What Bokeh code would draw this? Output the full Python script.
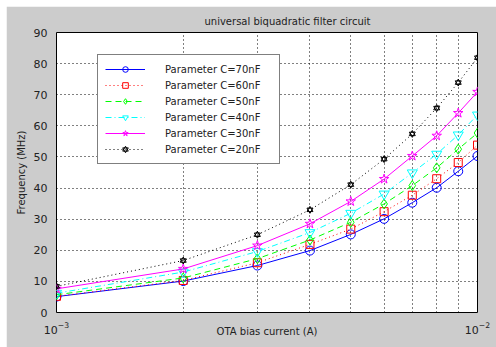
from bokeh.plotting import figure
from bokeh.models import FixedTicker, LogTickFormatter, Legend, LegendItem
from bokeh.embed import file_html
from bokeh.resources import INLINE

# ---- data ----
current = [0.001, 0.002, 0.003, 0.004, 0.005, 0.006, 0.007, 0.008, 0.009, 0.010]
f_70nF = [5.1, 10.1, 15.1, 19.9, 25.1, 30.1, 35.3, 40.1, 45.4, 50.3]
f_60nF = [5.2, 10.3, 16.0, 21.9, 26.8, 32.4, 37.7, 43.0, 48.2, 53.8]
f_50nF = [5.7, 11.1, 17.3, 23.3, 29.0, 34.9, 40.8, 46.5, 52.5, 57.7]
f_40nF = [6.2, 13.0, 19.6, 25.7, 31.9, 38.1, 44.9, 50.9, 57.1, 63.5]
f_30nF = [7.6, 14.0, 21.5, 28.5, 35.7, 42.9, 50.3, 56.8, 64.1, 70.9]
f_20nF = [8.4, 16.7, 25.0, 33.0, 41.1, 49.3, 57.4, 65.7, 73.9, 81.9]
series_labels = ["Parameter C=70nF", "Parameter C=60nF", "Parameter C=50nF",
                 "Parameter C=40nF", "Parameter C=30nF", "Parameter C=20nF"]
y_ticks = [0, 10, 20, 30, 40, 50, 60, 70, 80, 90]
x_major_ticks = [0.001, 0.01]
x_minor_ticks = [0.002, 0.003, 0.004, 0.005, 0.006, 0.007, 0.008, 0.009]

FONT = "DejaVu Sans"

p = figure(width=490, height=341, x_axis_type="log",
           x_range=(0.001, 0.01), y_range=(0, 90),
           output_backend="svg", toolbar_location=None,
           min_border_left=50, min_border_right=19,
           min_border_top=26, min_border_bottom=35,
           title="universal biquadratic filter circuit")
p.margin = (6, 0, 0, 6)

p.border_fill_color = "#cccccc"
p.background_fill_color = "white"
p.outline_line_color = "black"
p.outline_line_width = 1

p.title.text_font = FONT
p.title.text_font_size = "10px"
p.title.text_font_style = "normal"
p.title.text_color = "#222222"
p.title.align = "left"
p.title.offset = 148
p.title.standoff = 12

# axes
xt = FixedTicker(ticks=x_major_ticks, minor_ticks=x_minor_ticks)
p.xaxis.ticker = xt
p.xaxis.formatter = LogTickFormatter()
p.xgrid.ticker = xt
yt = FixedTicker(ticks=y_ticks)
p.yaxis.ticker = yt
p.ygrid.ticker = yt

for ax in (p.xaxis[0], p.yaxis[0]):
    ax.axis_line_color = None
    ax.major_tick_line_color = None
    ax.minor_tick_line_color = None
    ax.major_label_text_font = FONT
    ax.major_label_text_font_size = "11px"
    ax.major_label_text_color = "#222222"
    ax.major_label_standoff = 3
    ax.axis_label_text_font = FONT
    ax.axis_label_text_font_size = "10px"
    ax.axis_label_text_font_style = "normal"
    ax.axis_label_text_color = "#222222"

p.xaxis.axis_label = "OTA bias current (A)"
p.xaxis.axis_label_standoff = -11
p.yaxis.axis_label = "Frequency (MHz)"
p.yaxis.axis_label_standoff = 4

for g in (p.xgrid[0], p.ygrid[0]):
    g.grid_line_color = "black"
    g.grid_line_dash = "1 3"
    g.grid_line_width = 1
p.xgrid.minor_grid_line_color = "black"
p.xgrid.minor_grid_line_dash = "1 3"

# series
series = [f_70nF, f_60nF, f_50nF, f_40nF, f_30nF, f_20nF]
colors = ["#0000ff", "#ff0000", "#00ff00", "#00ffff", "#ff00ff", "#000000"]
dashes = ["solid", "1 3", "6 4", "6 3 1 3", "solid", "1 3"]
markers = [["circle"], ["square"], ["diamond"], ["inverted_triangle"], ["star"],
           ["triangle", "inverted_triangle"]]
sizes = [9, 8, 10, 10, 10, 6]

items = []
for ys, col, dash, mks, sz, lab in zip(series, colors, dashes, markers, sizes, series_labels):
    rs = []
    lr = p.line(current, ys, line_color=col, line_dash=dash, line_width=1)
    rs.append(lr)
    for mk in mks:
        mr = p.scatter(current, ys, marker=mk, size=sz, line_color=col,
                       fill_color=None, line_width=1)
        rs.append(mr)
    items.append(LegendItem(label=lab, renderers=rs))

legend = Legend(items=items, location=(41, 148))
legend.border_line_color = "black"
legend.border_line_width = 1
legend.background_fill_color = "white"
legend.background_fill_alpha = 1
legend.label_text_font = FONT
legend.label_text_font_size = "10px"
legend.label_text_color = "#222222"
legend.glyph_width = 40
legend.glyph_height = 14
legend.label_height = 14
legend.spacing = 2
legend.padding = 7
legend.label_standoff = 20
legend.label_width = 107
legend.margin = 0
p.add_layout(legend)

open("out.html", "w").write(file_html(p, INLINE))
